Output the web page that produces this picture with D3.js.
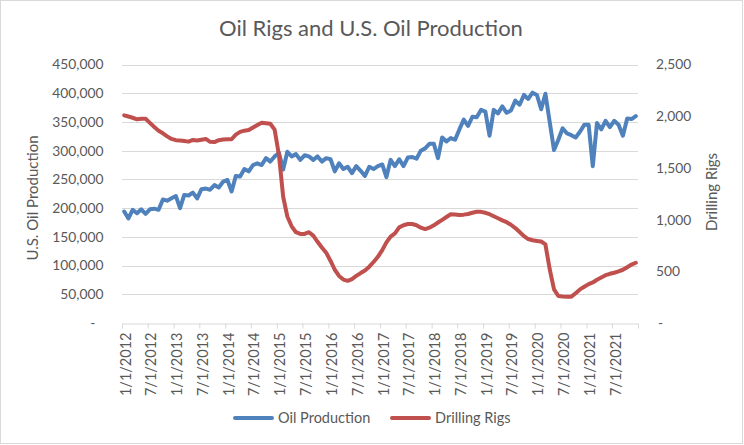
<!DOCTYPE html>
<html>
<head>
<meta charset="utf-8">
<script src="https://cdn.jsdelivr.net/npm/d3@7/dist/d3.min.js"></script>
<style>
  html, body { margin: 0; padding: 0; background: #fff; }
  svg { display: block; font-family: Lato, "Open Sans", sans-serif; }
</style>
</head>
<body>
<svg id="chart" width="744" height="445"></svg>
<script>
// ---- Data (monthly, Jan 2012 – Dec 2021) ----
const startYear = 2012;
const oilProduction = [
  194000,182000,197000,191000,198000,190000,198000,199000,197000,215000,213000,217000,
  221000,200000,223000,222000,227000,217000,233000,234000,232000,240000,236000,246000,
  249000,229000,256000,255000,268000,264000,275000,278000,275000,287000,281000,290000,
  296000,267000,298000,290000,294000,284000,292000,290000,284000,290000,281000,287000,
  285000,264000,278000,268000,272000,261000,273000,265000,256000,272000,268000,273000,
  276000,254000,284000,273000,285000,273000,288000,289000,286000,300000,304000,312000,
  312000,287000,323000,316000,322000,319000,337000,354000,343000,359000,358000,371000,
  368000,326000,371000,365000,377000,366000,370000,387000,380000,397000,390000,401000,
  397000,372000,399000,350000,301000,319000,339000,330000,327000,323000,333000,345000,
  345000,273000,348000,337000,352000,341000,352000,345000,326000,356000,355000,360000
];
const drillingRigs = [
  2008,1997,1985,1970,1975,1975,1935,1895,1860,1835,1805,1780,
  1768,1765,1760,1754,1770,1765,1772,1780,1752,1750,1768,1775,
  1777,1777,1822,1848,1860,1866,1890,1915,1937,1932,1927,1870,
  1620,1221,1030,935,878,861,861,878,845,785,730,680,
  600,515,455,420,408,425,455,483,508,545,590,640,
  705,780,835,867,925,945,957,957,945,922,908,922,
  945,972,998,1025,1052,1050,1045,1048,1054,1066,1076,1075,
  1066,1052,1033,1013,993,975,950,918,880,840,812,800,
  794,788,760,520,325,261,256,254,255,288,325,350,
  376,392,418,440,462,476,486,500,515,540,565,583
];
const leftTicks = [0,50000,100000,150000,200000,250000,300000,350000,400000,450000];
const rightTicks = [0,500,1000,1500,2000,2500];
const seriesNames = ["Oil Production", "Drilling Rigs"];
const titleText = "Oil Rigs and U.S. Oil Production";
const leftAxisTitle = "U.S. Oil Production";
const rightAxisTitle = "Drilling Rigs";

// ---- Layout ----
const W = 744, H = 445;
const plot = { left: 122, right: 638, top: 64.5, bottom: 323 };
const blue = "#4F81BD", red = "#C0504D", textCol = "#595959", grid = "#D9D9D9";
const lw = 4;

const svg = d3.select("#chart");
svg.append("rect").attr("x",0.5).attr("y",0.5).attr("width",W-2).attr("height",H-2)
  .attr("fill","#fff").attr("stroke",grid);

const x = d3.scaleTime()
  .domain([new Date(startYear,0,1), new Date(startYear, oilProduction.length, 1)])
  .range([plot.left, plot.right]);
const xMid = i => (x(new Date(startYear, i, 1)) + x(new Date(startYear, i + 1, 1))) / 2;
const yL = d3.scaleLinear().domain([0, 450000]).range([plot.bottom, plot.top]);
const yR = d3.scaleLinear().domain([0, 2500]).range([plot.bottom, plot.top]);

// gridlines
svg.append("g").selectAll("line").data(leftTicks.filter(d => d > 0)).join("line")
  .attr("x1", plot.left).attr("x2", plot.right)
  .attr("y1", d => Math.round(yL(d)) + 0.5).attr("y2", d => Math.round(yL(d)) + 0.5)
  .attr("stroke", grid).attr("stroke-width", 1);

// x axis
const xTickDates = d3.timeMonth.range(new Date(startYear,0,1), new Date(startYear, oilProduction.length + 1, 1), 6);
const fmtDate = d3.timeFormat("%-m/%-d/%Y");
const xAxis = d3.axisBottom(x).tickValues(xTickDates).tickSize(5).tickSizeOuter(0)
  .tickFormat(d => d < new Date(startYear, oilProduction.length, 1) ? fmtDate(d) : "");
const gx = svg.append("g").attr("transform", `translate(0,${Math.round(plot.bottom)+0.5})`).call(xAxis);
gx.select(".domain").attr("stroke", grid);
gx.selectAll(".tick line").attr("stroke", grid);
gx.selectAll(".tick text")
  .attr("fill", textCol).attr("font-size", "14.5px").attr("font-family", "Lato, sans-serif")
  .attr("text-anchor", "end").attr("dy", "0.35em")
  .attr("transform", "rotate(-90)")
  .attr("x", -9).attr("y", 3);

// left axis
const fmtL = d => d === 0 ? "-" : d3.format(",")(d);
const gl = svg.append("g").attr("transform", `translate(${plot.left - 18.5},0)`)
  .call(d3.axisLeft(yL).tickValues(leftTicks).tickSize(0).tickFormat(fmtL));
gl.select(".domain").remove();
gl.selectAll(".tick text").attr("fill", textCol).attr("font-size", "13.8px").attr("font-family", "Lato, sans-serif")
  .attr("x", d => d === 0 ? -8 : 0);

// right axis
const fmtR = d => d === 0 ? "-" : d3.format(",")(d);
const gr = svg.append("g").attr("transform", `translate(${plot.right + 18},0)`)
  .call(d3.axisRight(yR).tickValues(rightTicks).tickSize(0).tickFormat(fmtR));
gr.select(".domain").remove();
gr.selectAll(".tick text").attr("fill", textCol).attr("font-size", "13.8px").attr("font-family", "Lato, sans-serif")
  .attr("x", d => d === 0 ? 2 : 0);

// lines
const lineL = d3.line().x((d,i) => xMid(i)).y(d => yL(d));
const lineR = d3.line().x((d,i) => xMid(i)).y(d => yR(d));
svg.append("path").datum(oilProduction).attr("d", lineL)
  .attr("fill","none").attr("stroke", blue).attr("stroke-width", lw)
  .attr("stroke-linejoin","round").attr("stroke-linecap","round");
svg.append("path").datum(drillingRigs).attr("d", lineR)
  .attr("fill","none").attr("stroke", red).attr("stroke-width", lw)
  .attr("stroke-linejoin","round").attr("stroke-linecap","round");

// title
svg.append("text").attr("x", 371).attr("y", 36).attr("text-anchor","middle")
  .attr("fill", textCol).attr("font-size","22px").attr("font-family","Lato, sans-serif")
  .text(titleText);

// axis titles
svg.append("text").attr("transform","translate(38,198) rotate(-90)").attr("text-anchor","middle")
  .attr("fill", textCol).attr("font-size","15px").text(leftAxisTitle);
svg.append("text").attr("transform","translate(717,192) rotate(-90)").attr("text-anchor","middle")
  .attr("fill", textCol).attr("font-size","15px").text(rightAxisTitle);

// legend
const legendItems = [
  { name: seriesNames[0], color: blue, x: 235 },
  { name: seriesNames[1], color: red, x: 392 }
];
const lg = svg.append("g").selectAll("g").data(legendItems).join("g")
  .attr("transform", d => `translate(${d.x},418)`);
lg.append("line").attr("x1",0).attr("x2",37).attr("y1",0).attr("y2",0)
  .attr("stroke", d => d.color).attr("stroke-width",lw).attr("stroke-linecap","round");
lg.append("text").attr("x",43).attr("y",0).attr("dy","0.35em")
  .attr("fill", textCol).attr("font-size","14.5px").text(d => d.name);
</script>
</body>
</html>
